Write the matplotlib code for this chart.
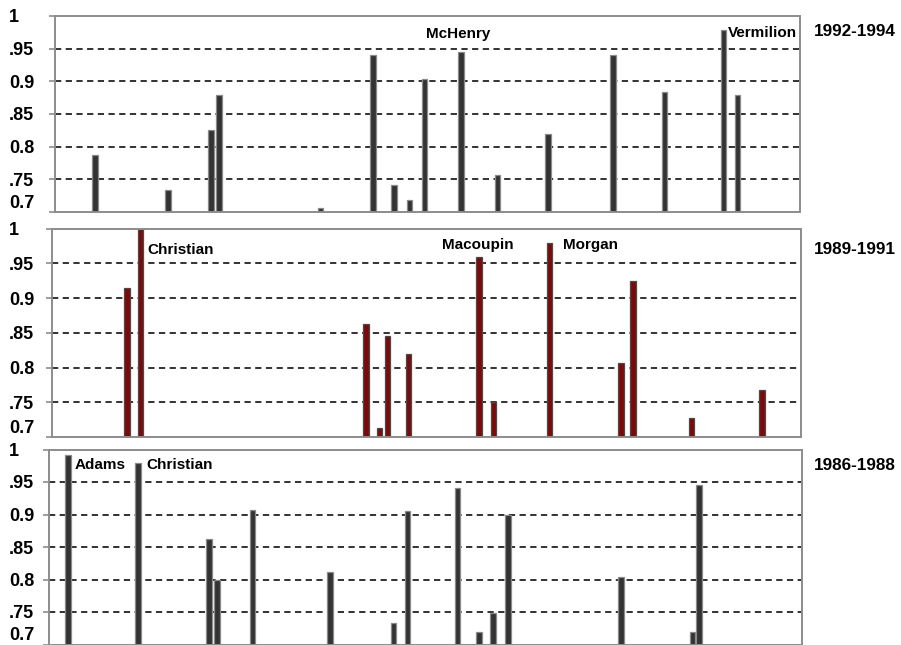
import matplotlib
matplotlib.use("Agg")
import matplotlib.pyplot as plt

# --- data (x = county slot on a 0..104 scale) ---
periods = ["1992-1994", "1989-1991", "1986-1988"]

x_9294 = [5.6, 15.8, 21.8, 22.9, 37.1, 44.4, 47.3, 49.5, 51.6, 56.7, 61.8, 68.8, 77.9, 85.1, 93.3, 95.3]
v_9294 = [0.788, 0.734, 0.825, 0.879, 0.706, 0.940, 0.742, 0.719, 0.904, 0.945, 0.756, 0.820, 0.940, 0.884, 0.979, 0.879]

x_8991 = [10.4, 12.3, 43.6, 45.5, 46.6, 49.5, 59.3, 61.3, 69.1, 79.0, 80.7, 88.8, 98.6]
v_8991 = [0.915, 1.000, 0.863, 0.713, 0.846, 0.820, 0.959, 0.751, 0.979, 0.806, 0.924, 0.728, 0.768]

x_8688 = [2.6, 12.3, 22.1, 23.2, 28.1, 38.8, 47.6, 49.5, 56.4, 59.4, 61.3, 63.4, 79.0, 88.9, 89.8]
v_8688 = [0.992, 0.979, 0.862, 0.799, 0.907, 0.812, 0.733, 0.905, 0.941, 0.720, 0.748, 0.900, 0.804, 0.720, 0.946]

labels_9294 = ["McHenry", "Vermilion"]
lab_x_9294 = [56.3, 94.0]
lab_y_9294 = [0.973, 0.974]
lab_ha_9294 = ["center", "left"]

labels_8991 = ["Christian", "Macoupin", "Morgan"]
lab_x_8991 = [13.3, 54.2, 71.0]
lab_y_8991 = [0.969, 0.976, 0.976]
lab_ha_8991 = ["left", "left", "left"]

labels_8688 = ["Adams", "Christian"]
lab_x_8688 = [3.6, 13.5]
lab_y_8688 = [0.976, 0.976]
lab_ha_8688 = ["left", "left"]

yticks = [0.7, 0.75, 0.8, 0.85, 0.9, 0.95, 1.0]
ytick_labels = ["0.7", ".75", "0.8", ".85", "0.9", ".95", "1"]
grid_values = yticks[1:-1]

plt.rcParams["font.family"] = ["Liberation Sans", "DejaVu Sans"]
plt.rcParams["font.weight"] = "bold"
plt.rcParams["lines.scale_dashes"] = False

W, H = 901, 645
fig = plt.figure(figsize=(W / 100, H / 100), dpi=100)

# panel boxes in pixels: left, top, right, bottom
boxes = [(55, 16, 800, 212), (52, 228.5, 801, 437), (49, 449.5, 802, 644.5)]
panels = [
    (x_9294, v_9294, "#333333", "#8a8a8a", labels_9294, lab_x_9294, lab_y_9294, lab_ha_9294),
    (x_8991, v_8991, "#7d0a0a", "#4a4a4a", labels_8991, lab_x_8991, lab_y_8991, lab_ha_8991),
    (x_8688, v_8688, "#333333", "#8a8a8a", labels_8688, lab_x_8688, lab_y_8688, lab_ha_8688),
]
period_y = [32, 250, 465]

for (l, t, r, b), (xs, vs, fc, ec, labs, lx, ly, lha), period, py in zip(boxes, panels, periods, period_y):
    ax = fig.add_axes([l / W, 1 - b / H, (r - l) / W, (b - t) / H])
    ax.set_xlim(0, 104)
    ax.set_ylim(0.7, 1.0)

    for g in grid_values:
        ax.axhline(g, color="#222222", lw=1.3, ls=(0, (4.5, 3.2)), zorder=1)

    ax.bar(xs, [v - 0.7 for v in vs], bottom=0.7, width=0.75,
           color=fc, edgecolor=ec, linewidth=0.9, zorder=3)

    for s in ax.spines.values():
        s.set_color("#8c8c8c")
        s.set_linewidth(1.4)
        s.set_zorder(4)

    ax.set_xticks([])
    ax.set_yticks(yticks, ytick_labels)
    pad_px = (l - 6) - 9
    ax.tick_params(axis="y", direction="out", length=4.5, width=1.2, color="#8c8c8c",
                   labelsize=13, pad=pad_px * 0.72)
    tl = ax.get_yticklabels()
    for lab in tl:
        lab.set_ha("left")
        lab.set_fontweight("bold")
    tl[0].set_va("bottom")
    tl[-1].set_va("center_baseline")

    for name, x, y, ha in zip(labs, lx, ly, lha):
        ax.text(x, y, name, ha=ha, va="center", fontsize=11, fontweight="bold", zorder=5)

    fig.text(814 / W, 1 - py / H, period, ha="left", va="center",
             fontsize=12.3, fontweight="bold")

fig.savefig("out.png", dpi=100)
